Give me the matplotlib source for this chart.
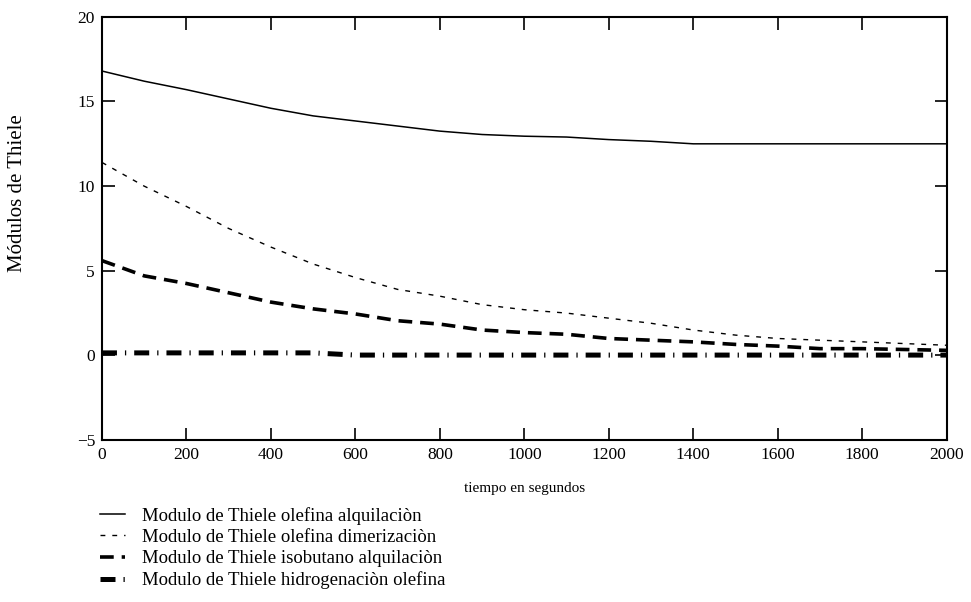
import numpy as np
import matplotlib
matplotlib.use("Agg")
import matplotlib.pyplot as plt

plt.rcParams['font.family'] = ['Liberation Serif', 'DejaVu Serif']

# tiempo en segundos
t = [0, 100, 200, 300, 400, 500, 600, 700, 800, 900, 1000,
     1100, 1200, 1300, 1400, 1500, 1600, 1700, 1800, 1900, 2000]

olefina_alq = [16.8, 16.2, 15.7, 15.15, 14.6, 14.15, 13.85, 13.55, 13.25, 13.05, 12.95,
               12.9, 12.75, 12.65, 12.5, 12.5, 12.5, 12.5, 12.5, 12.5, 12.5]
olefina_dim = [11.4, 10.0, 8.8, 7.5, 6.4, 5.4, 4.6, 3.9, 3.5, 3.0, 2.7,
               2.5, 2.2, 1.9, 1.5, 1.2, 1.0, 0.9, 0.8, 0.7, 0.6]
isobutano_alq = [5.6, 4.7, 4.25, 3.7, 3.15, 2.75, 2.45, 2.05, 1.85, 1.5, 1.35,
                 1.25, 1.0, 0.9, 0.8, 0.65, 0.55, 0.4, 0.4, 0.35, 0.3]
hidrog_olefina = [0.15, 0.15, 0.15, 0.15, 0.15, 0.15, 0.02, 0.02, 0.02, 0.02, 0.02,
                  0.02, 0.02, 0.02, 0.02, 0.02, 0.02, 0.02, 0.02, 0.02, 0.02]

labels = ["Modulo de Thiele olefina alquilaciòn",
          "Modulo de Thiele olefina dimerizaciòn",
          "Modulo de Thiele isobutano alquilaciòn",
          "Modulo de Thiele hidrogenaciòn olefina"]

fig = plt.figure(figsize=(9.71, 6.02), dpi=100)
ax = fig.add_axes([0.105, 0.269, 0.870, 0.703])

l1, = ax.plot(t, olefina_alq, color='black', lw=1.1, label=labels[0])
l2, = ax.plot(t, olefina_dim, color='black', lw=1.0, dashes=(3.5, 5), label=labels[1])
l3, = ax.plot(t, isobutano_alq, color='black', lw=2.6, dashes=(3.8, 2.2), label=labels[2])
l4, = ax.plot(t, hidrog_olefina, color='black', lw=3.6, solid_capstyle='butt',
              dash_capstyle='butt', dashes=(3.0, 1.6, 0.25, 1.6), label=labels[3])

ax.set_xlim(0, 2000)
ax.set_ylim(-5, 20)
ax.set_xticks(np.arange(0, 2001, 200))
ax.set_yticks([-5, 0, 5, 10, 15, 20])
ax.set_yticklabels(['\u22125', '0', '5', '10', '15', '20'])

for s in ax.spines.values():
    s.set_linewidth(1.5)
ax.tick_params(direction='in', length=9, width=1.2, top=True, right=True,
               labelsize=12.5, pad=5)

fig.text(0.018, 0.68, "Módulos de Thiele", rotation=90, ha='center', va='center',
         fontsize=15)
fig.text(0.54, 0.189, "tiempo en segundos", ha='center', va='center', fontsize=11)

ax.legend(handles=[l1, l2, l3, l4], loc='upper left', bbox_to_anchor=(0.103, 0.158),
          bbox_transform=fig.transFigure, frameon=False, fontsize=13.5,
          handlelength=1.33, handletextpad=0.9, labelspacing=0.22, borderpad=0,
          borderaxespad=0)

fig.savefig("out.png", dpi=100)
